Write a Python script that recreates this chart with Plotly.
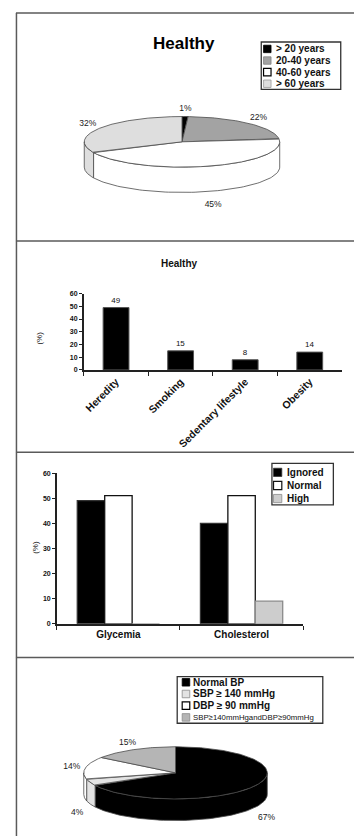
import numpy as np
import plotly.graph_objects as go

W, H = 354, 839

# ---------------- data ----------------
# Panel 1 : age distribution (3D pie)
age_labels = ["> 20 years", "20-40 years", "40-60 years", "> 60 years"]
age_values = [1, 22, 45, 32]

# Panel 2 : risk factors (bars)
risk_categories = ["Heredity", "Smoking", "Sedentary lifestyle", "Obesity"]
risk_values = [49, 15, 8, 14]

# Panel 3 : glycemia / cholesterol (grouped bars)
lab_categories = ["Glycemia", "Cholesterol"]
lab_series = ["Ignored", "Normal", "High"]
ignored_values = [49, 40]
normal_values = [51, 51]
high_values = [0, 9]

# Panel 4 : blood pressure (3D pie)
bp_labels = ["Normal BP", "SBP ≥ 140 mmHg", "DBP ≥ 90 mmHg", "SBP≥140mmHgandDBP≥90mmHg"]
bp_values = [67, 4, 14, 15]

y_tick_values = [0, 10, 20, 30, 40, 50, 60]

# ---------------- styles ----------------
FONT = "Arial, Liberation Sans, sans-serif"
age_colors = ["#000000", "#a3a3a3", "#ffffff", "#dedede"]
age_borders = ["#000000", "#808080", "#000000", "#9a9a9a"]
lab_colors = ["#000000", "#ffffff", "#cdcdcd"]
lab_borders = ["#333333", "#111111", "#8a8a8a"]
bp_colors = ["#000000", "#e3e3e3", "#ffffff", "#b5b5b5"]
bp_borders = ["#000000", "#8a8a8a", "#000000", "#8a8a8a"]


def px(x):
    return x / W


def py(y):
    return 1 - y / H


fig = go.Figure()


def pie3d(values, colors, cx, cy, rx, ry, depth):
    total = float(sum(values))
    fr = np.concatenate([[0.0], np.cumsum(values) / total]) * 360.0
    edge = "#4a4a4a"
    # side walls (front half only)
    for i in range(len(values)):
        a, b = fr[i], fr[i + 1]
        lo, hi = max(a, 90.0), min(b, 270.0)
        if hi > lo:
            t = np.radians(np.linspace(lo, hi, 80))
            xs = cx + rx * np.sin(t)
            ys = cy - ry * np.cos(t)
            X = np.concatenate([xs, xs[::-1], xs[:1]])
            Y = np.concatenate([ys, ys[::-1] + depth, ys[:1]])
            fig.add_trace(go.Scatter(x=X, y=Y, fill="toself", fillcolor=colors[i], mode="lines",
                                     line=dict(color=edge, width=0.8), xaxis="x3", yaxis="y3",
                                     hoverinfo="skip", showlegend=False))
    # top faces
    for i in range(len(values)):
        a, b = fr[i], fr[i + 1]
        n = max(int(b - a) + 2, 4)
        t = np.radians(np.linspace(a, b, n))
        X = np.concatenate([[cx], cx + rx * np.sin(t), [cx]])
        Y = np.concatenate([[cy], cy - ry * np.cos(t), [cy]])
        fig.add_trace(go.Scatter(x=X, y=Y, fill="toself", fillcolor=colors[i], mode="lines",
                                 line=dict(color=edge, width=0.8), xaxis="x3", yaxis="y3",
                                 hoverinfo="skip", showlegend=False))
    # percentage labels
    mids = np.radians((fr[:-1] + fr[1:]) / 2)
    lx = cx + (rx + 14) * np.sin(mids)
    ly = cy - (ry + 8) * np.cos(mids) + np.where(np.cos(mids) < 0, depth + 6, 0)
    fig.add_trace(go.Scatter(x=lx, y=ly, mode="text", text=[f"{v}%" for v in values],
                             textfont=dict(family=FONT, size=8.5, color="#1a1a1a"),
                             xaxis="x3", yaxis="y3", hoverinfo="skip", showlegend=False))


pie3d(age_values, age_colors, 181.5, 139, 98, 25.5, 25.5)
pie3d(bp_values, bp_colors, 175, 775.3, 92, 26.3, 21.8)

# Panel 2 bars
fig.add_trace(go.Bar(x=risk_categories, y=risk_values, width=0.4, xaxis="x", yaxis="y",
                     marker=dict(color="#000000", line=dict(color="#555555", width=1)),
                     text=[str(v) for v in risk_values], textposition="outside",
                     textfont=dict(family=FONT, size=8, color="#111"), cliponaxis=False,
                     showlegend=False))

# Panel 3 bars
for name, vals, col, bc in zip(lab_series, [ignored_values, normal_values, high_values],
                               lab_colors, lab_borders):
    fig.add_trace(go.Bar(x=lab_categories, y=vals, name=name, xaxis="x2", yaxis="y2",
                         marker=dict(color=col, line=dict(color=bc, width=1.3)),
                         showlegend=False))

axis_common = dict(showline=True, linecolor="#222", linewidth=1.5, ticks="outside",
                   tickcolor="#222", showgrid=False, zeroline=False, fixedrange=True)

fig.update_layout(
    width=W, height=H, margin=dict(l=0, r=0, t=0, b=0),
    paper_bgcolor="white", plot_bgcolor="rgba(0,0,0,0)",
    barmode="group", bargap=0.332, bargroupgap=0,
    font=dict(family=FONT, color="#111"),
    xaxis=dict(domain=[px(83), px(342)], anchor="y", type="category", tickangle=-45,
               tickson="boundaries", ticklen=4,
               tickfont=dict(family=FONT, size=10.5, weight="bold", color="#111"), **axis_common),
    yaxis=dict(domain=[py(369), py(292)], anchor="x", range=[0, 60], tickvals=y_tick_values,
               ticklen=3, tickfont=dict(family=FONT, size=7, weight="bold", color="#111"),
               **axis_common),
    xaxis2=dict(domain=[px(56), px(303)], anchor="y2", type="category",
                tickson="boundaries", ticklen=4,
                tickfont=dict(family=FONT, size=10, weight="bold", color="#111"), **axis_common),
    yaxis2=dict(domain=[py(625), py(473)], anchor="x2", range=[0, 60], tickvals=y_tick_values,
                ticklen=3, tickfont=dict(family=FONT, size=7, weight="bold", color="#111"),
                **axis_common),
    xaxis3=dict(domain=[0, 1], range=[0, W], visible=False, anchor="y3", fixedrange=True),
    yaxis3=dict(domain=[0, 1], range=[H, 0], visible=False, anchor="x3", fixedrange=True),
)

# panel frames
line_style = dict(color="#5a5a5a", width=1.5)
fig.add_shape(type="line", xref="paper", yref="paper", x0=px(15.5), x1=px(15.5), y0=py(9), y1=0,
              line=line_style)
for yy in [9, 239, 452, 659]:
    fig.add_shape(type="line", xref="paper", yref="paper", x0=px(15), x1=1, y0=py(yy), y1=py(yy),
                  line=line_style)

# titles
fig.add_annotation(x=px(184), y=py(28), xref="paper", yref="paper", text="Healthy", showarrow=False,
                   font=dict(family=FONT, size=17, weight="bold", color="#000"))
fig.add_annotation(x=px(179), y=py(254), xref="paper", yref="paper", text="Healthy", showarrow=False,
                   font=dict(family=FONT, size=10, weight="bold", color="#111"))
for (xx, yy) in [(32, 337), (28, 548)]:
    fig.add_annotation(x=px(xx), y=py(yy), xref="paper", yref="paper", text="(%)", showarrow=False,
                       textangle=-90, font=dict(family=FONT, size=8, color="#111"))


def add_legend(labels, colors, borders, box, y0, dy, sx, ss, tx, fonts):
    x0, yb0, x1, yb1 = box
    fig.add_shape(type="rect", xref="paper", yref="paper", x0=px(x0), x1=px(x1),
                  y0=py(yb1), y1=py(yb0), line=dict(color="#333", width=1.3), fillcolor="white")
    for i, (lab, col, bc) in enumerate(zip(labels, colors, borders)):
        yc = y0 + i * dy
        fig.add_shape(type="rect", xref="paper", yref="paper", x0=px(sx), x1=px(sx + ss),
                      y0=py(yc + ss / 2), y1=py(yc - ss / 2), fillcolor=col,
                      line=dict(color=bc, width=1.2 if col == "#ffffff" else 0.8))
        fig.add_annotation(x=px(tx), y=py(yc), xref="paper", yref="paper", text=lab,
                           showarrow=False, xanchor="left", yanchor="middle", font=fonts[i])


bold10 = dict(family=FONT, size=10, weight="bold", color="#111")
add_legend(age_labels, age_colors, age_borders, (261, 38.3, 340.7, 86), 45.3, 11.7,
           263.3, 7.5, 274, [bold10] * 4)
add_legend(lab_series, lab_colors, lab_borders, (271.7, 463.3, 333.3, 505), 472.3, 13.2,
           273.3, 8.3, 285, [bold10] * 3)
add_legend(bp_labels, bp_colors, bp_borders, (176.7, 678.3, 322.7, 725.3), 684, 11.8,
           181.7, 7.6, 191, [bold10, bold10, bold10,
                             dict(family=FONT, size=7.8, color="#111")])

fig.write_html("out.html")
